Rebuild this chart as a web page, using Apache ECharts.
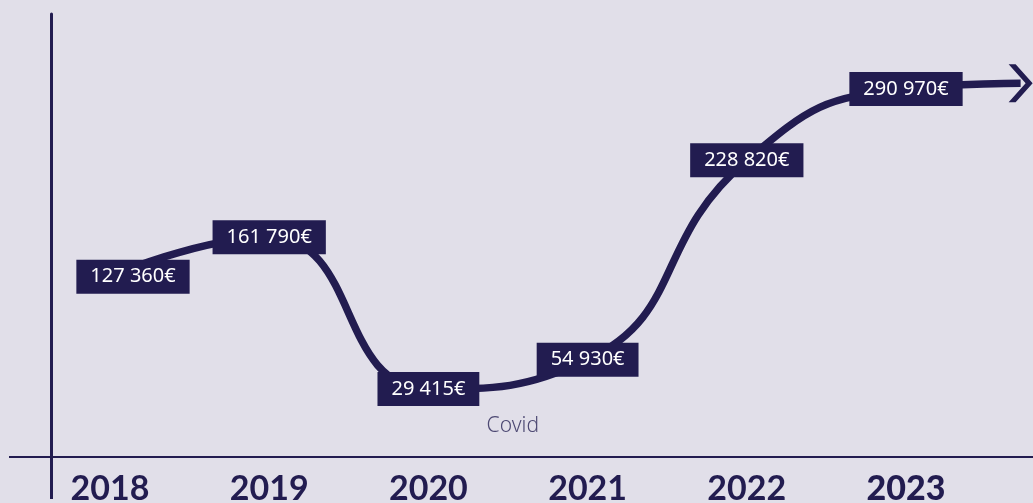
<!DOCTYPE html>
<html>
<head>
<meta charset="utf-8">
<title>Chiffre d'affaires</title>
<script src="https://cdn.jsdelivr.net/npm/echarts@6/dist/echarts.min.js"></script>
<style>
  html, body { margin: 0; padding: 0; background: #e1dfe9; }
  #chart { width: 1033px; height: 503px; }
</style>
</head>
<body>
<div id="chart"></div>
<script>
// values
const years = ['2018', '2019', '2020', '2021', '2022', '2023'];
const revenue = [127360, 161790, 29415, 54930, 228820, 290970];
// where the arrow ends, just after 2023
const arrowEnd = [5.72, 296000];
// the "Covid" note under the dip
const covidNote = [2.53, -2850];

const navy = '#221c50';

function euro(v) {
  return String(v).replace(/\B(?=(\d{3})+(?!\d))/g, ' ') + '€';
}

function buildData() {
  const data = revenue.map((v, i) => ({
    value: [i, v],
    label: i === 0 ? {offset: [23, 0]} : {}
  }));
  data.push({
    value: arrowEnd,
    symbol: 'path://M0,0 L7,0 L24,19 L7,38 L0,38 L17,19 Z',
    symbolSize: [24, 38],
    symbolKeepAspect: false,
    label: {show: false}
  });
  return data;
}

function initChart() {
  const chartEl = document.getElementById('chart');
  const option = {
    animation: false,
    backgroundColor: '#e1dfe9',
    grid: {left: 51, right: 0, top: 14, bottom: 46, containLabel: false, outerBoundsMode: 'none'},
    xAxis: {
      type: 'value',
      min: -0.3706,
      max: 5.7977,
      splitLine: {show: false},
      axisTick: {show: false},
      axisLine: {show: true, onZero: false, lineStyle: {color: navy, width: 2}},
      axisLabel: {
        customValues: [0, 1, 2, 3, 4, 5],
        margin: 15,
        color: navy,
        fontFamily: 'Lato',
        fontSize: 34,
        fontWeight: 'bold',
        formatter: v => v === 5 ? '{b|' + years[v] + '}' : years[v],
        rich: {
          b: {color: navy, fontFamily: 'Lato', fontSize: 34, fontWeight: 900}
        }
      }
    },
    yAxis: {
      type: 'value',
      min: -29871,
      max: 356359,
      splitLine: {show: false},
      axisTick: {show: false},
      axisLabel: {show: false},
      axisLine: {show: true, onZero: false, lineStyle: {color: navy, width: 3}}
    },
    graphic: [
      {type: 'line', shape: {x1: 9, y1: 457, x2: 51, y2: 457},
        style: {stroke: navy, lineWidth: 2}},
      {type: 'line', shape: {x1: 51.5, y1: 457, x2: 51.5, y2: 499},
        style: {stroke: navy, lineWidth: 3}}
    ],
    series: [
      {
        type: 'line',
        smooth: 0.5,
        symbol: 'circle',
        symbolSize: 2,
        lineStyle: {color: navy, width: 7.5},
        itemStyle: {color: navy},
        label: {
          show: true,
          position: 'inside',
          formatter: p => euro(p.value[1]),
          color: '#ffffff',
          fontFamily: 'Noto Sans',
          fontSize: 20,
          fontWeight: 'normal',
          backgroundColor: navy,
          padding: [8, 14, 6, 14]
        },
        data: buildData(),
        markPoint: {
          symbol: 'rect',
          symbolSize: 0,
          label: {
            show: true,
            position: 'inside',
            formatter: 'Covid',
            color: '#4d4973',
            fontFamily: 'Noto Sans',
            fontSize: 21,
            fontWeight: 300
          },
          data: [{coord: covidNote}]
        }
      }
    ]
  };
  const myChart = echarts.init(chartEl);
  myChart.setOption(option);
}

initChart();
</script>
</body>
</html>
